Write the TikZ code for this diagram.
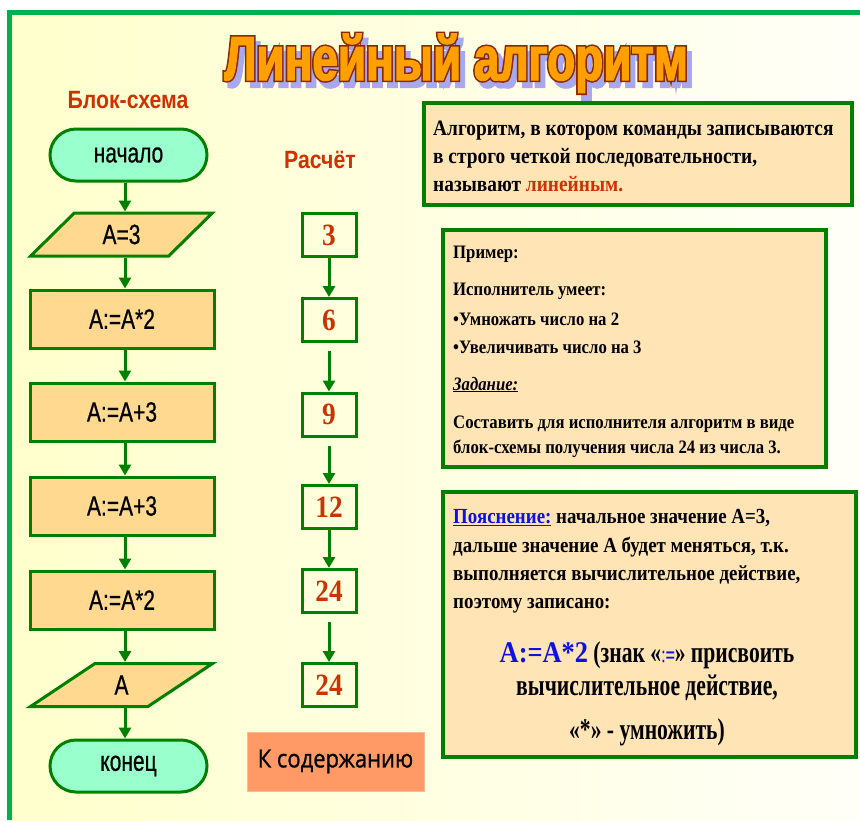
\documentclass[tikz,border=0pt]{standalone}
\usepackage{fontspec}
\usetikzlibrary{shapes.geometric,fadings,arrows.meta}
\setmainfont{Liberation Serif}
\newfontfamily\flowfam[FakeStretch=0.75,FakeBold=0.6]{Liberation Sans}
\newfontfamily\headfam[FakeStretch=0.85]{Liberation Sans}
\newfontfamily\serN[FakeStretch=0.88]{Liberation Serif}
\newfontfamily\serC[FakeStretch=0.72]{Liberation Serif}
\newfontfamily\titlefam[FakeStretch=0.74,BoldFeatures={FakeBold=2}]{Liberation Sans}
\newfontfamily\titleoutfam[FakeStretch=0.74,BoldFeatures={FakeBold=7}]{Liberation Sans}
\newfontfamily\btnfam[FakeStretch=0.88,FakeBold=0.8]{Open Sans}
\definecolor{fg}{HTML}{008000}
\definecolor{frameg}{HTML}{00B050}
\definecolor{mint}{HTML}{99FFCC}
\definecolor{procf}{HTML}{FFD98F}
\definecolor{peach}{HTML}{FFE4B5}
\definecolor{redt}{HTML}{CC3300}
\definecolor{btn}{HTML}{FF9966}
\definecolor{bgL}{HTML}{FFFFCC}
\definecolor{bgR}{HTML}{FFFFF8}
\definecolor{lav}{HTML}{A8A8F0}
\definecolor{tout}{HTML}{8A2A00}
\definecolor{ttop}{HTML}{C02000}
\definecolor{tmid}{HTML}{E86000}
\definecolor{tbot}{HTML}{FFA000}
\definecolor{blu}{HTML}{1010E0}
\newcommand{\ttlfont}{\titlefam\bfseries\fontsize{62}{64}\selectfont}
\newcommand{\ttloutfont}{\titleoutfam\bfseries\fontsize{62}{64}\selectfont}
\newcommand{\ttltext}{Линейный алгоритм}
\begin{tikzfadingfrompicture}[name=titlefade]
  \node[text=transparent!0,font=\ttlfont,inner sep=0pt] (fadetext) at (0,0) {\ttltext};
\end{tikzfadingfrompicture}
\begin{document}
\begin{tikzpicture}[x=1pt,y=-1pt,
  flowfont/.style={font=\flowfam\fontsize{28}{30}\selectfont},
  term/.style={draw=fg,line width=3pt,fill=mint,rounded corners=26pt,minimum width=157pt,minimum height=52pt,inner sep=0pt,flowfont},
  io/.style={trapezium,trapezium left angle=48.5,trapezium right angle=131.5,trapezium stretches=true,draw=fg,line width=3pt,fill=procf,minimum width=183pt,minimum height=43pt,inner sep=0pt,flowfont},
  proc/.style={draw=fg,line width=3pt,fill=procf,minimum width=184pt,minimum height=58pt,inner sep=0pt,flowfont},
  calc/.style={draw=fg,line width=3pt,minimum width=54pt,minimum height=43pt,inner sep=0pt,text=redt,font=\serN\bfseries\fontsize{31}{31}\selectfont},
  arr/.style={draw=fg,line width=3pt,-{Triangle[width=12pt,length=11pt]}},
  infobox/.style={draw=fg,line width=4pt,fill=peach},
  head/.style={text=redt,font=\headfam\bfseries\fontsize{25}{28}\selectfont,inner sep=0pt,anchor=base},
  ta/.style={anchor=base west,inner sep=0pt,font=\serN\bfseries\fontsize{22}{24}\selectfont},
  tb/.style={anchor=base west,inner sep=0pt,font=\serN\bfseries\fontsize{19}{22}\selectfont},
  tc/.style={anchor=base west,inner sep=0pt,font=\serN\bfseries\fontsize{21.5}{24}\selectfont},
  td/.style={anchor=base,inner sep=0pt,font=\serC\bfseries\fontsize{30}{32}\selectfont},
]
\useasboundingbox (0,0) rectangle (860,820);
% background
\fill[white] (0,0) rectangle (860,820);
\shade[left color=bgL,right color=bgR] (9,12) rectangle (860,820);
\draw[frameg,line width=5pt] (9.5,820) -- (9.5,12) -- (860,12);

% title: shadow, outline, gradient fill
\node[text=lav,font=\ttloutfont,inner sep=0pt,anchor=base] (tshadow) at (461,86) {\ttltext};
\node[text=tout,font=\ttloutfont,inner sep=0pt,anchor=base] (toutline) at (456,80) {\ttltext};
\node[text=tbot,font=\ttlfont,inner sep=0pt,anchor=base] (title) at (456,80) {\ttltext};
\path[path fading=titlefade,fit fading=false,top color=ttop,bottom color=tbot,middle color=tmid]
  (title.south west) rectangle (title.north east);

% headings
\node[head] (hblock) at (128,108) {Блок-схема};
\node[head] (hcalc) at (320,168) {Расчёт};

% flowchart
\node[term] (start) at (128.5,155) {начало};
\node[io] (in1) at (121.5,234.5) {A=3};
\node[proc] (p1) at (122,319) {A:=A*2};
\node[proc] (p2) at (122,412) {A:=A+3};
\node[proc] (p3) at (122,506) {A:=A+3};
\node[proc] (p4) at (122,600) {A:=A*2};
\node[io] (out1) at (121.5,685) {A};
\node[term] (stop) at (128.5,766) {конец};
\coordinate (ax) at (125,0);
\draw[arr] (start.south -| ax) -- (in1.north -| ax);
\draw[arr] (in1.south -| ax) -- (p1.north -| ax);
\draw[arr] (p1.south -| ax) -- (p2.north -| ax);
\draw[arr] (p2.south -| ax) -- (p3.north -| ax);
\draw[arr] (p3.south -| ax) -- (p4.north -| ax);
\draw[arr] (p4.south -| ax) -- (out1.north -| ax);
\draw[arr] (out1.south -| ax) -- (stop.north -| ax);

% calculation column
\node[calc] (c1) at (329,235) {3};
\node[calc] (c2) at (329,320) {6};
\node[calc] (c3) at (329,414.5) {9};
\node[calc] (c4) at (329,507) {12};
\node[calc] (c5) at (329,591) {24};
\node[calc] (c6) at (329,685) {24};
\draw[arr] (c1) -- (c2);
\draw[arr,shorten <=8pt] (c2) -- (c3);
\draw[arr,shorten <=8pt] (c3) -- (c4);
\draw[arr] (c4) -- (c5);
\draw[arr,shorten <=8pt] (c5) -- (c6);

% button
\node[fill=btn,draw=btn!70!white,line width=1pt,minimum width=177pt,minimum height=59pt,inner sep=0pt,font=\btnfam\fontsize{25}{26}\selectfont] (btn) at (335.5,761.5) {К содержанию};

% definition box
\node[infobox,minimum width=428pt,minimum height=102pt,inner sep=0pt] (defbox) at (638,154) {};
\node[ta] (d1) at (433,135) {Алгоритм, в котором команды записываются};
\node[ta] (d2) at (433,163) {в строго четкой последовательности,};
\node[ta] (d3) at (433,191) {называют \textcolor{redt}{линейным.}};

% example box
\node[infobox,minimum width=383pt,minimum height=237pt,inner sep=0pt] (exbox) at (634.5,348.5) {};
\node[tb] (e1) at (453,258) {Пример:};
\node[tb] (e2) at (453,295) {Исполнитель умеет:};
\node[tb] (e3) at (453,325) {•Умножать число на 2};
\node[tb] (e4) at (453,353) {•Увеличивать число на 3};
\node[tb] (e5) at (453,390) {\underline{\itshape Задание:}};
\node[tb] (e6) at (453,428) {Составить для исполнителя алгоритм в виде};
\node[tb] (e7) at (453,453) {блок-схемы получения числа 24 из числа 3.};

% explanation box
\node[infobox,minimum width=413pt,minimum height=265pt,inner sep=0pt] (xbox) at (649.5,624.5) {};
\node[tc] (x1) at (453,523) {\textcolor{blu}{\underline{Пояснение:}} начальное значение А=3,};
\node[tc] (x2) at (453,552) {дальше значение А будет меняться, т.к.};
\node[tc] (x3) at (453,580) {выполняется вычислительное действие,};
\node[tc] (x4) at (453,608) {поэтому записано:};
\node[td] (x5) at (647,662) {{\color{blu}\serN\fontsize{30}{30}\selectfont А:=А*2} (знак «{\color{blu}\flowfam\mdseries\fontsize{21}{24}\selectfont:=}» присвоить};
\node[td] (x6) at (647,695) {вычислительное действие,};
\node[td] (x7) at (647,739) {«*» - умножить)};
\end{tikzpicture}
\end{document}
